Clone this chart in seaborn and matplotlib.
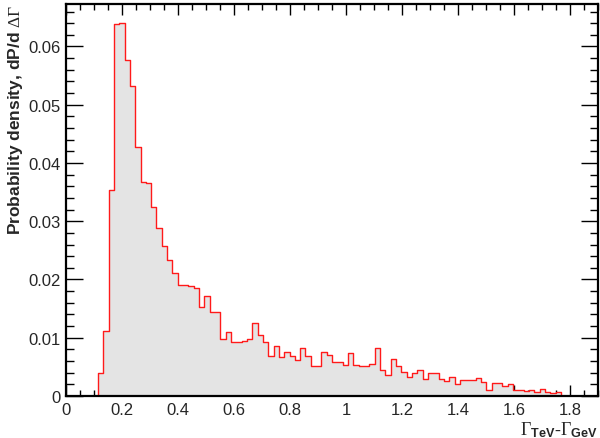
import matplotlib

matplotlib.use("Agg")
import matplotlib.pyplot as plt
import numpy as np
import pandas
import seaborn as sns
from matplotlib.ticker import FuncFormatter, MultipleLocator

# Histogram of Gamma_TeV - Gamma_GeV, 100 bins between 0 and 1.9
x_range = (0.0, 1.9)
n_bins = 100
density = [
    0.0, 0.0, 0.0, 0.0, 0.0, 0.0, 0.0040, 0.0111, 0.0353, 0.0639,
    0.0641, 0.0577, 0.0532, 0.0427, 0.0367, 0.0365, 0.0325, 0.0289, 0.0257, 0.0234,
    0.0211, 0.0191, 0.0190, 0.0188, 0.0185, 0.0153, 0.0171, 0.0144, 0.0144, 0.0098,
    0.0109, 0.0093, 0.0093, 0.0094, 0.0097, 0.0125, 0.0104, 0.0092, 0.0068, 0.0086,
    0.0067, 0.0075, 0.0069, 0.0061, 0.0082, 0.0068, 0.0052, 0.0052, 0.0075, 0.0070,
    0.0058, 0.0059, 0.0054, 0.0074, 0.0054, 0.0052, 0.0052, 0.0055, 0.0083, 0.0045,
    0.0036, 0.0064, 0.0051, 0.0041, 0.0032, 0.0040, 0.0044, 0.0029, 0.0039, 0.0039,
    0.0030, 0.0026, 0.0032, 0.0020, 0.0027, 0.0027, 0.0027, 0.0031, 0.0024, 0.0010,
    0.0023, 0.0023, 0.0018, 0.0020, 0.0010, 0.0011, 0.0009, 0.0011, 0.0007, 0.0012,
    0.0006, 0.0005, 0.0007, 0.0, 0.0, 0.0, 0.0, 0.0, 0.0, 0.0,
]
x_label = r"$\mathrm{\Gamma}_{\mathbf{TeV}}\mathbf{\text{-}}\mathrm{\Gamma}_{\mathbf{GeV}}$"
y_label = r"Probability density, dP/d $\mathrm{\Delta\Gamma}$"

sns.set_style("ticks")
plt.rcParams["font.family"] = ["Liberation Sans", "DejaVu Sans"]
plt.rcParams["mathtext.fontset"] = "custom"
plt.rcParams["mathtext.rm"] = "Liberation Serif"
plt.rcParams["mathtext.bf"] = "Liberation Sans:bold"
plt.rcParams["mathtext.it"] = "Liberation Serif:italic"


def main():
    edges = np.linspace(x_range[0], x_range[1], n_bins + 1)
    centers = 0.5 * (edges[:-1] + edges[1:])
    df = pandas.DataFrame({"gamma_diff": centers, "density": density})

    fig = plt.figure(figsize=(6.0, 4.39), dpi=100)
    ax = fig.add_axes([0.11, 0.0957, 0.887, 0.893])

    # grey fill, then red outline on top
    sns.histplot(
        data=df, x="gamma_diff", weights="density", bins=n_bins, binrange=x_range,
        element="step", fill=True, color="#e4e4e4", alpha=1, linewidth=0, ax=ax,
    )
    sns.histplot(
        data=df, x="gamma_diff", weights="density", bins=n_bins, binrange=x_range,
        element="step", fill=False, color="#ff1a1a", linewidth=1.0, ax=ax,
    )

    ax.set_xlim(*x_range)
    ax.set_ylim(0, 0.0673)
    ax.set_xlabel(x_label, fontsize=13, ha="right", x=1.0, labelpad=2)
    ax.set_ylabel(y_label, fontsize=12.5, fontweight="bold", ha="right", y=1.0, labelpad=2)

    ax.xaxis.set_major_locator(MultipleLocator(0.2))
    ax.xaxis.set_minor_locator(MultipleLocator(0.05))
    ax.yaxis.set_major_locator(MultipleLocator(0.01))
    ax.yaxis.set_minor_locator(MultipleLocator(0.002))
    fmt = FuncFormatter(lambda v, pos: "%g" % round(v, 4))
    ax.xaxis.set_major_formatter(fmt)
    ax.yaxis.set_major_formatter(fmt)

    ax.tick_params(axis="both", which="both", direction="in", top=True, right=True,
                   labelsize=12, color="black", width=1.0)
    ax.tick_params(axis="x", which="major", length=8, pad=4)
    ax.tick_params(axis="x", which="minor", length=4)
    ax.tick_params(axis="y", which="major", length=12, pad=4)
    ax.tick_params(axis="y", which="minor", length=6)

    for spine in ax.spines.values():
        spine.set_visible(True)
        spine.set_linewidth(1.6)
        spine.set_color("black")

    fig.savefig("out.png", dpi=100)
    plt.close(fig)


if __name__ == "__main__":
    main()
